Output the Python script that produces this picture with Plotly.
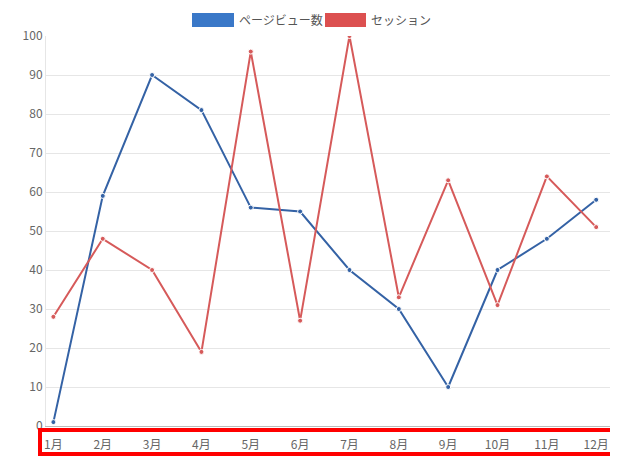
import plotly.graph_objects as go

months = ["1月","2月","3月","4月","5月","6月","7月","8月","9月","10月","11月","12月"]
pageviews = [1, 59, 90, 81, 56, 55, 40, 30, 10, 40, 48, 58]
sessions = [28, 48, 40, 19, 96, 27, 100, 33, 63, 31, 64, 51]
names = ["ページビュー数", "セッション"]

W, H = 618, 464
L, R, T, B = 38, 15, 28, 46
fig = go.Figure()
fig.add_trace(go.Scatter(x=months, y=pageviews, name=names[0], mode="lines+markers",
    line=dict(color="#3462a5", width=2), marker=dict(size=5, color="#3462a5", line=dict(color="white", width=1))))
fig.add_trace(go.Scatter(x=months, y=sessions, name=names[1], mode="lines+markers",
    line=dict(color="#d65a5a", width=2), marker=dict(size=5, color="#d65a5a", line=dict(color="white", width=1))))

pw, ph = W - L - R, H - T - B
def fx(x): return (x - L) / pw
def fy(y): return ((H - y) - B) / ph

shapes = [
    dict(type="rect", xref="paper", yref="paper", x0=fx(184), x1=fx(226), y0=fy(19), y1=fy(5),
         fillcolor="#3a78c8", line=dict(width=0)),
    dict(type="rect", xref="paper", yref="paper", x0=fx(317), x1=fx(358), y0=fy(19), y1=fy(5),
         fillcolor="#dc5050", line=dict(width=0)),
    dict(type="rect", xref="paper", yref="paper", x0=fx(32), x1=fx(611), y0=fy(446), y1=fy(422),
         fillcolor="rgba(0,0,0,0)", line=dict(color="#ff0000", width=4)),
]
annotations = []
for xx, t in ((229, names[0]), (361, names[1])):
    annotations.append(dict(xref="paper", yref="paper", x=fx(xx), y=fy(12),
        text=t, showarrow=False, xanchor="left", yanchor="middle",
        font=dict(size=12, color="#555", family="Noto Sans CJK JP")))

fig.update_layout(
    width=W, height=H, margin=dict(l=L, r=R, t=T, b=B, autoexpand=False),
    paper_bgcolor="white", plot_bgcolor="white", showlegend=False,
    shapes=shapes, annotations=annotations,
    font=dict(family="Noto Sans CJK JP", size=12, color="#666"),
    xaxis=dict(range=[-0.15, 11.3], showgrid=False, showline=True, linecolor="#bbb", automargin=False,
               ticks="outside", ticklen=8, tickcolor="rgba(0,0,0,0)", tickfont=dict(size=12, color="#666")),
    yaxis=dict(range=[0, 100], dtick=10, showgrid=True, gridcolor="#e6e6e6", zeroline=False, automargin=False,
               showline=True, linecolor="#e6e6e6", ticks="", tickfont=dict(size=12, color="#666")),
)
fig.write_html("out.html")
